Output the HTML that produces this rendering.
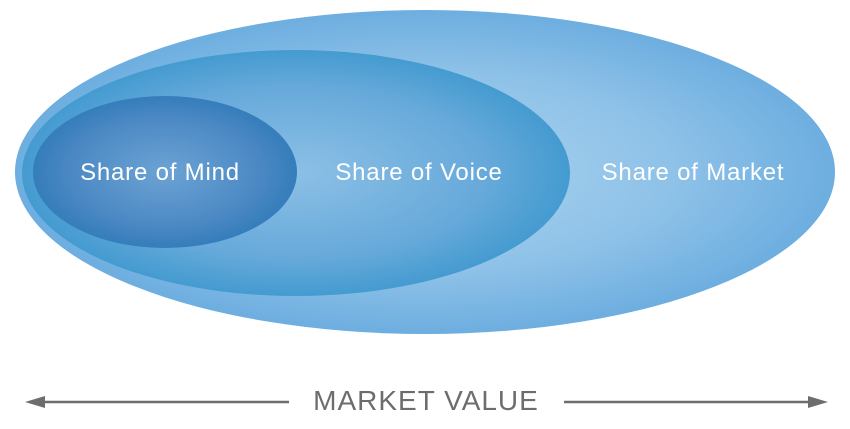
<!DOCTYPE html>
<html><head><style>
html,body{margin:0;padding:0;background:#fff;width:850px;height:429px;overflow:hidden}
svg{display:block}
</style></head><body>
<svg width="850" height="429" viewBox="0 0 850 429" xmlns="http://www.w3.org/2000/svg">
<defs>
<radialGradient id="go" cx="0.5" cy="0.5" r="0.5">
<stop offset="0" stop-color="#a9d2ef"/>
<stop offset="0.6" stop-color="#8fc2e8"/>
<stop offset="1" stop-color="#6daee0"/>
</radialGradient>
<radialGradient id="gm" cx="0.5" cy="0.5" r="0.5">
<stop offset="0" stop-color="#8cc0e6"/>
<stop offset="0.7" stop-color="#66a9da"/>
<stop offset="1" stop-color="#449bd0"/>
</radialGradient>
<radialGradient id="gi" cx="0.5" cy="0.5" r="0.5">
<stop offset="0" stop-color="#6ca3d4"/>
<stop offset="0.7" stop-color="#4c89c4"/>
<stop offset="1" stop-color="#357dbb"/>
</radialGradient>
</defs>
<ellipse cx="425" cy="172" rx="410" ry="162" fill="url(#go)"/>
<ellipse cx="296" cy="173" rx="274" ry="123" fill="url(#gm)"/>
<ellipse cx="165" cy="172" rx="132" ry="76" fill="url(#gi)"/>
<g font-family="Liberation Sans, sans-serif" font-size="24" fill="#fff" text-anchor="middle" letter-spacing="0.8">
<text x="160" y="180">Share of Mind</text>
<text x="419" y="180">Share of Voice</text>
<text x="693" y="180">Share of Market</text>
</g>
<g stroke="#6d6d6d" stroke-width="2.5" fill="#6d6d6d">
<line x1="38" y1="402" x2="289" y2="402"/>
<line x1="564" y1="402" x2="814" y2="402"/>
</g>
<polygon points="25,402 45,396 45,408" fill="#6d6d6d"/>
<polygon points="828,402 808,396 808,408" fill="#6d6d6d"/>
<text x="426" y="410" font-family="Liberation Sans, sans-serif" font-size="28" fill="#6d6d6d" text-anchor="middle" letter-spacing="1">MARKET VALUE</text>
</svg>
</body></html>
